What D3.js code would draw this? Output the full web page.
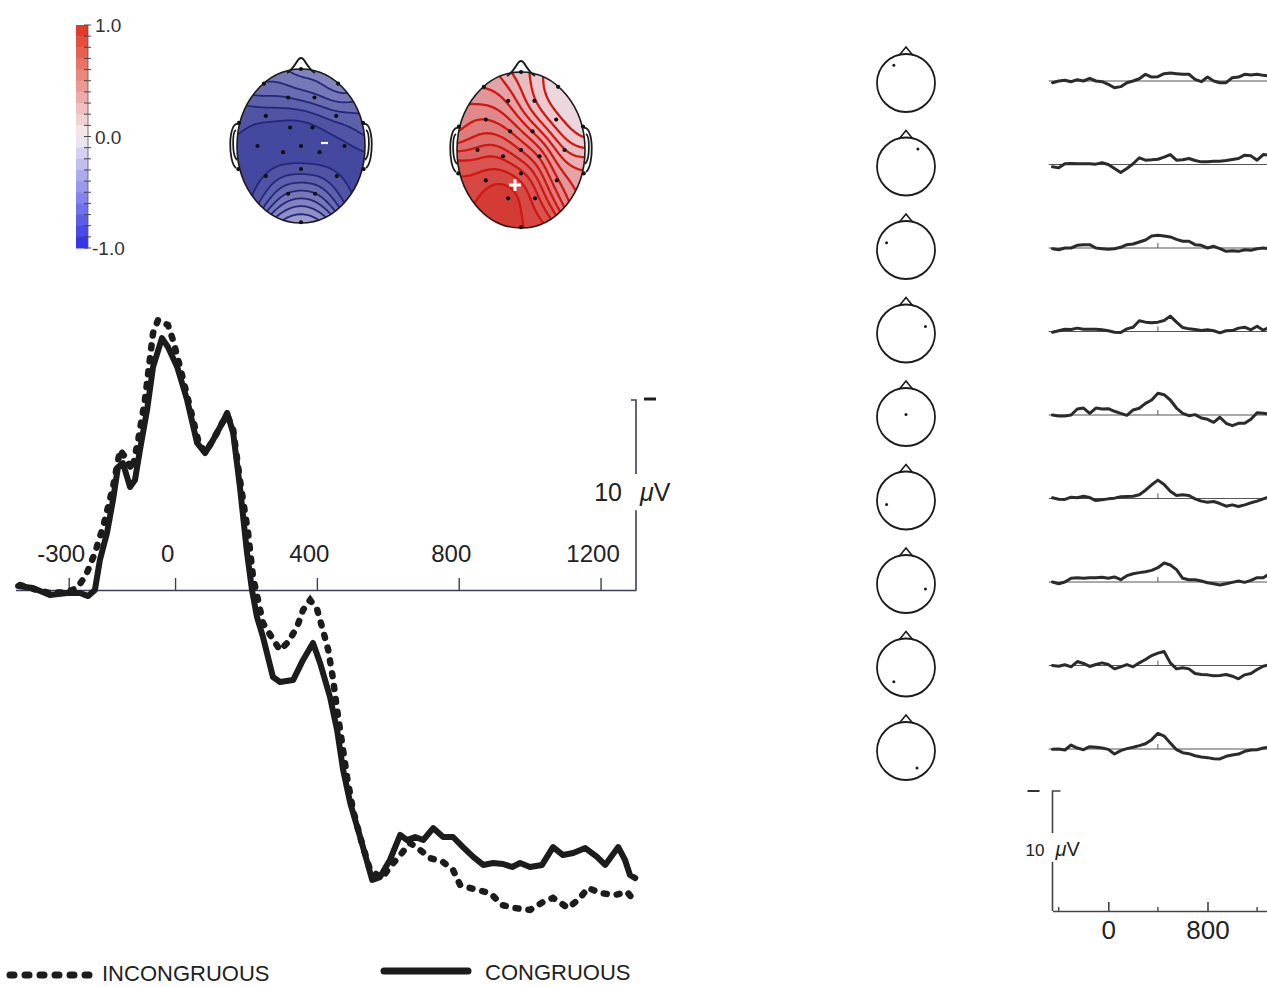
<!DOCTYPE html>
<html>
<head>
<meta charset="utf-8">
<script src="https://cdn.jsdelivr.net/npm/d3@7"></script>
<style>
    body { margin: 0; background: #fff; }
    svg { display: block; font-family: "Liberation Sans", Arial, Helvetica, sans-serif; }
</style>
</head>
<body>
<svg id="fig" width="1267" height="987"></svg>
<script>

// Grand average ERP (ms, µV) - negative is plotted up
const congruousTime = [-443, -401, -353, -305, -268, -245, -226, -212, -192, -175, -161, -147, -127, -113, -99, -79, -62, -37, -20, 6,
    34, 62, 85, 107, 133, 147, 164, 183, 203, 217, 231, 248, 276, 296, 333, 361, 389, 409, 437, 457,
    474, 494, 522, 556, 578, 606, 635, 654, 677, 700, 728, 756, 784, 812, 841, 869, 897, 925, 951, 973,
    1001, 1035, 1066, 1094, 1123, 1157, 1190, 1213, 1250, 1269, 1283, 1298]
const congruousAmp = [-0.21, -0.11, 0.26, 0.16, 0.16, 0.32, 0, -1.58, -3.0, -4.74, -6.47, -6.68, -5.42, -5.79, -7.37, -9.47, -11.74, -13.26, -12.79, -11.74,
    -10.0, -7.74, -7.21, -7.89, -8.79, -9.32, -8.26, -5.42, -1.95, 0, 1.42, 2.47, 4.58, 4.84, 4.74, 3.68, 2.79, 3.84, 5.63, 7.37,
    9.47, 11.21, 13.0, 15.26, 15.11, 14.21, 12.89, 13.16, 13.0, 13.16, 12.53, 13.0, 13.0, 13.53, 14.05, 14.47, 14.37, 14.42, 14.58, 14.37,
    14.58, 14.47, 13.53, 13.95, 13.84, 13.58, 14.05, 14.47, 13.53, 14.21, 15.0, 15.16]

const incongruousTime = [-437, -389, -353, -305, -276, -251, -226, -203, -175, -155, -141, -121, -104, -85, -62, -48, -20, -6, 14, 37,
    65, 85, 107, 133, 147, 164, 183, 206, 220, 240, 248, 274, 296, 319, 344, 361, 381, 401, 417, 432,
    446, 457, 471, 485, 502, 522, 550, 584, 606, 635, 663, 691, 719, 756, 784, 804, 852, 889, 922, 959,
    1001, 1038, 1066, 1109, 1142, 1165, 1199, 1241, 1275, 1298]
const incongruousAmp = [-0.26, 0, 0.16, 0.11, -0.11, -0.79, -1.95, -3.32, -5.42, -7.37, -7.0, -6.32, -7.89, -10.0, -13.53, -14.21, -13.95, -13.16, -11.74, -10.0,
    -7.89, -7.21, -7.89, -8.79, -9.21, -8.42, -5.79, -3.0, -0.68, 1.05, 1.74, 2.53, 3.16, 2.74, 1.95, 1.05, 0.53, 1.05, 2.11, 3.16,
    4.74, 6.32, 8.05, 9.84, 11.58, 13.0, 14.74, 15.16, 14.58, 13.95, 13.32, 13.68, 14.11, 14.32, 14.74, 15.53, 15.79, 15.95, 16.58, 16.74,
    16.84, 16.42, 16.21, 16.74, 16.21, 15.68, 15.95, 16.05, 15.89, 16.42]

const mainTicks = [-300, 0, 400, 800, 1200]

// Scalp maps: electrode positions (unit head, x right, y down) and normalised values
const electrodePos = [[0, -1], [-0.58, -0.81], [0.58, -0.81], [-0.2, -0.63], [0.21, -0.63], [-0.55, -0.39], [0.55, -0.39],
    [-0.17, -0.24], [0.18, -0.24], [-0.68, 0], [0, 0], [0.68, 0], [-0.28, 0.08], [0.29, 0.08], [0, 0.3],
    [-0.55, 0.39], [0.56, 0.39], [-0.2, 0.62], [0.22, 0.62], [0, 0.99], [-0.97, -0.3], [0.97, -0.3], [-0.98, 0.3], [0.98, 0.3]]
const topoNegative = [-0.5, -0.6, -0.45, -0.7, -0.65, -0.85, -0.75, -0.9, -0.88, -0.92, -0.95, -0.9, -0.9, -0.92, -0.8,
    -0.85, -0.85, -0.6, -0.6, -0.3, -0.8, -0.7, -0.9, -0.88]
const topoPositive = [0.2, 0.35, 0.05, 0.4, 0.15, 0.55, 0.1, 0.5, 0.3, 0.65, 0.55, 0.2, 0.8, 0.55, 0.85,
    0.85, 0.45, 0.95, 0.75, 0.85, 0.45, 0.05, 0.8, 0.35]
const colorbarLabels = [1.0, 0.0, -1.0]

// Difference waves per electrode (right column), sampled every 50 ms
const traceTime = [-450, -400, -350, -300, -250, -200, -150, -100, -50, 0, 50, 100, 150, 200, 250, 300, 350, 400,
    450, 500, 550, 600, 650, 700, 750, 800, 850, 900, 950, 1000, 1050, 1100, 1150, 1200, 1250, 1300]
const traceElectrodes = [[-0.42, -0.61], [0.41, -0.6], [-0.67, -0.25], [0.67, -0.24], [0, -0.09],
    [-0.67, 0.14], [0.67, 0.17], [-0.42, 0.49], [0.38, 0.59]]
const trace1 = [0.14, 0, -0.06, 0.06, -0.11, 0, -0.22, 0, 0.06, 0.28, 0.56, 0.47, 0.14, 0, -0.19, -0.56, -0.33, -0.36, -0.61, -0.67, -0.61, -0.56, -0.56, -0.14, 0.06, -0.33, 0, 0.14, 0.14, -0.28, -0.33, -0.56, -0.5, -0.56, -0.47, -0.42]
const trace2 = [0.19, 0.28, -0.06, -0.08, -0.06, -0.06, -0.06, -0.03, -0.14, 0, 0.33, 0.67, 0.33, -0.06, -0.56, -0.36, -0.39, -0.44, -0.61, -0.83, -0.36, -0.39, -0.5, -0.33, -0.22, -0.22, -0.28, -0.28, -0.33, -0.42, -0.5, -0.78, -0.72, -0.36, -0.83, -0.78]
const trace3 = [0.06, 0.14, 0, 0, -0.22, -0.28, -0.28, 0, 0.06, 0.11, 0.06, -0.06, -0.28, -0.33, -0.5, -0.67, -1.0, -1.06, -1.0, -0.92, -0.72, -0.56, -0.56, -0.28, -0.22, 0, -0.14, 0.06, 0.28, 0.22, 0.28, 0.14, 0.19, 0.06, 0, 0.06]
const trace4 = [0.06, -0.06, -0.19, -0.17, -0.28, -0.19, -0.19, -0.19, -0.14, -0.06, 0.06, 0.08, -0.22, -0.36, -0.89, -0.78, -0.72, -0.78, -0.92, -1.28, -0.78, -0.33, -0.22, -0.17, -0.08, -0.14, -0.06, 0.11, -0.06, -0.08, -0.28, -0.36, -0.14, -0.44, -0.11, -0.36]
const trace5 = [0, 0.08, 0.08, 0, -0.5, -0.58, -0.14, -0.58, -0.5, -0.53, -0.31, -0.14, 0.03, -0.42, -0.56, -0.97, -1.25, -1.81, -1.69, -1.25, -0.58, -0.14, 0.06, -0.03, 0.25, 0.36, 0.61, 0.19, 0.69, 0.89, 0.69, 0.69, 0.36, -0.19, -0.14, -0.08]
const trace6 = [-0.06, 0.06, 0.08, -0.11, -0.06, -0.19, -0.08, 0.17, 0.11, 0.03, -0.03, -0.14, -0.17, -0.19, -0.31, -0.69, -1.14, -1.53, -1.17, -0.61, -0.25, -0.31, -0.25, 0.03, 0.22, 0.31, 0.25, 0.42, 0.64, 0.53, 0.67, 0.53, 0.36, 0.22, 0.03, -0.14]
const trace7 = [0, 0.14, 0, -0.31, -0.36, -0.31, -0.36, -0.36, -0.39, -0.31, -0.42, -0.19, -0.53, -0.69, -0.78, -0.86, -0.97, -1.19, -1.58, -1.42, -1.03, -0.31, -0.19, -0.19, -0.08, 0.06, 0.14, 0.25, 0.14, 0.03, -0.08, 0.03, -0.14, -0.36, -0.36, -0.69]
const trace8 = [0, 0.06, -0.06, 0.11, -0.33, -0.17, 0.08, -0.08, -0.22, -0.08, 0.28, 0.11, -0.08, 0.11, -0.22, -0.5, -0.83, -1.03, -1.17, -0.22, 0.28, 0.19, 0.28, 0.67, 0.75, 0.78, 0.86, 0.83, 0.75, 0.89, 1.11, 0.78, 0.67, 0.33, 0.06, -0.08]
const trace9 = [0.03, 0, 0.08, -0.33, -0.08, 0.06, -0.19, -0.14, -0.08, 0.03, 0.42, 0.14, -0.03, -0.14, -0.28, -0.44, -0.78, -1.31, -1.08, -0.5, 0.06, 0.31, 0.39, 0.56, 0.67, 0.72, 0.81, 0.83, 0.61, 0.5, 0.42, 0.19, 0.08, 0.06, -0.08, -0.14]
const traces = [trace1, trace2, trace3, trace4, trace5, trace6, trace7, trace8, trace9]
const traceTicks = [0, 800]
const traceMinorTicks = [-400, 400, 1200]


const svg = d3.select("#fig")
const ink = "#1c1c1c"
const axisColor = "#3d3d5c"

// ---------------- Main ERP panel ----------------
const xMain = d3.scaleLinear().domain([-450, 1300]).range([15.5, 636])
const yMain = d3.scaleLinear().domain([0, 10]).range([590, 780])   // +µV downward

const xAxis = svg.append("g")
    .attr("transform", `translate(0,${yMain(0)})`)
    .call(d3.axisTop(xMain).tickValues(mainTicks).tickSize(12).tickSizeOuter(0).tickPadding(16)
        .tickFormat(d => String(d)))
xAxis.attr("font-family", null).attr("font-size", null)
xAxis.select(".domain").attr("stroke", axisColor).attr("stroke-width", 1.6)
xAxis.selectAll(".tick line").attr("stroke", axisColor).attr("stroke-width", 1.4)
xAxis.selectAll(".tick text").attr("dx", -8).attr("font-size", 24).attr("fill", "#222")

// 10 µV calibration bar
const barX = xMain.range()[1]
svg.append("path")
    .attr("d", `M${barX - 5},${yMain(-10)}H${barX}V${yMain(-6.1)}M${barX},${yMain(-4.2)}V${yMain(0)}`)
    .attr("fill", "none").attr("stroke", axisColor).attr("stroke-width", 1.6)
svg.append("line")
    .attr("x1", barX + 8).attr("x2", barX + 20).attr("y1", yMain(-10) - 1).attr("y2", yMain(-10) - 1)
    .attr("stroke", ink).attr("stroke-width", 3)
svg.append("text").attr("x", barX - 14).attr("y", yMain(-4.7)).attr("text-anchor", "end")
    .attr("font-size", 25).attr("fill", "#222").text("10")
const uv = svg.append("text").attr("x", barX + 4).attr("y", yMain(-4.7)).attr("font-size", 25).attr("fill", "#222")
uv.append("tspan").attr("font-style", "italic").text("\u03bc")
uv.append("tspan").text("V")

const mainLine = d3.line().x(d => xMain(d[0])).y(d => yMain(d[1]))

svg.append("path")
    .datum(incongruousTime.map((t, i) => [t, incongruousAmp[i]]))
    .attr("d", mainLine)
    .attr("fill", "none").attr("stroke", ink).attr("stroke-width", 6.5)
    .attr("stroke-linecap", "round").attr("stroke-dasharray", "3 10")

svg.append("path")
    .datum(congruousTime.map((t, i) => [t, congruousAmp[i]]))
    .attr("d", mainLine)
    .attr("fill", "none").attr("stroke", ink).attr("stroke-width", 6)
    .attr("stroke-linejoin", "round").attr("stroke-linecap", "round")

// Legend
svg.append("line").attr("x1", 10).attr("x2", 98).attr("y1", 975).attr("y2", 975)
    .attr("stroke", ink).attr("stroke-width", 7).attr("stroke-linecap", "round").attr("stroke-dasharray", "4 11")
svg.append("text").attr("x", 102).attr("y", 981).attr("font-size", 22).attr("fill", "#222").text("INCONGRUOUS")
svg.append("line").attr("x1", 384).attr("x2", 468).attr("y1", 971).attr("y2", 971)
    .attr("stroke", ink).attr("stroke-width", 7).attr("stroke-linecap", "round")
svg.append("text").attr("x", 485).attr("y", 980).attr("font-size", 22).attr("fill", "#222").text("CONGRUOUS")

// ---------------- Colour bar ----------------
const cbY = d3.scaleLinear().domain([1, -1]).range([25, 248])
const cbColor = d3.scaleLinear().domain([-1, 0, 1]).range(["#2b2de6", "#f4eef3", "#e2321d"])
const cbSteps = d3.range(20).map(i => 1 - 0.1 * i)
svg.append("g").selectAll("rect")
    .data(cbSteps)
    .enter()
    .append("rect")
    .attr("x", 76).attr("width", 12)
    .attr("y", d => cbY(d))
    .attr("height", cbY(0) - cbY(0.1) + 0.5)
    .attr("fill", d => cbColor(d - 0.05))
svg.append("g").selectAll("line")
    .data(cbSteps.concat([-1]))
    .enter()
    .append("line")
    .attr("x1", 84).attr("x2", 91)
    .attr("y1", d => cbY(d)).attr("y2", d => cbY(d))
    .attr("stroke", "#444").attr("stroke-width", 1)
svg.append("line").attr("x1", 88).attr("x2", 88).attr("y1", cbY(1)).attr("y2", cbY(-1))
    .attr("stroke", "#555").attr("stroke-width", 0.8)
svg.selectAll("cblabel")
    .data(colorbarLabels)
    .enter()
    .append("text")
    .attr("x", d => d < 0 ? 92 : 95)
    .attr("y", d => cbY(d) + 7)
    .attr("font-size", 19).attr("fill", "#333")
    .text(d => d.toFixed(1))

// ---------------- Scalp maps ----------------
const topoColor = d3.scaleLinear().domain([-1, 0, 1]).range(["#2c3192", "#efebf3", "#d0221b"])

function fieldAt(px, py, vals) {
    let num = 0, den = 0
    electrodePos.forEach((p, i) => {
        const d2 = (px - p[0]) ** 2 + (py - p[1]) ** 2
        const w = Math.exp(-d2 / 0.12)
        num += w * vals[i]
        den += w
    })
    return num / den
}

function drawTopo(id, cx, cy, rx, ry, vals, lineColor, lineWidth) {
    const n = 90, ext = 1.1
    const grid = new Array(n * n)
    for (let j = 0; j < n; j++) {
        for (let i = 0; i < n; i++) {
            const gx = -ext + 2 * ext * (i + 0.5) / n
            const gy = -ext + 2 * ext * (j + 0.5) / n
            grid[j * n + i] = fieldAt(gx, gy, vals)
        }
    }
    const step = 0.065
    const thresholds = d3.range(-1.04, 1.0001, step)
    const contours = d3.contours().size([n, n]).thresholds(thresholds)(grid)

    const proj = d3.geoTransform({
        point: function (x, y) {
            this.stream.point(cx + (-ext + 2 * ext * x / n) * rx, cy + (-ext + 2 * ext * y / n) * ry)
        }
    })
    const path = d3.geoPath(proj)

    svg.append("defs").append("clipPath").attr("id", id)
        .append("ellipse").attr("cx", cx).attr("cy", cy).attr("rx", rx).attr("ry", ry)

    const g = svg.append("g")
    const maps = g.append("g").attr("clip-path", `url(#${id})`)
    maps.selectAll("path")
        .data(contours)
        .enter()
        .append("path")
        .attr("d", path)
        .attr("fill", d => topoColor(Math.max(-1, Math.min(1, d.value + step / 2))))
        .attr("stroke", (d, i) => i === 0 ? "none" : lineColor)
        .attr("stroke-width", lineWidth)
        .attr("stroke-linejoin", "round")

    // head outline, nose and ears
    g.append("ellipse").attr("cx", cx).attr("cy", cy).attr("rx", rx).attr("ry", ry)
        .attr("fill", "none").attr("stroke", ink).attr("stroke-width", 1.6)
    const top = cy - ry
    g.append("path")
        .attr("d", `M${cx - 14},${top + 4} Q${cx - 9},${top + 1} ${cx - 3},${top - 9} Q${cx},${top - 13} ${cx + 3},${top - 9} Q${cx + 9},${top + 1} ${cx + 14},${top + 4}`)
        .attr("fill", "none").attr("stroke", ink).attr("stroke-width", 2)
    for (const s of [-1, 1]) {
        const ex = cx + s * (rx - 1)
        g.append("path")
            .attr("d", `M${ex},${cy - 22} C${ex + s * 10},${cy - 24} ${ex + s * 10},${cy + 16} ${ex + s * 2},${cy + 22} M${ex + s * 2},${cy - 16} C${ex + s * 6},${cy - 14} ${ex + s * 6},${cy + 10} ${ex + s * 1},${cy + 14}`)
            .attr("fill", "none").attr("stroke", ink).attr("stroke-width", 1.8)
    }
    g.selectAll("circle")
        .data(electrodePos)
        .enter()
        .append("circle")
        .attr("cx", d => cx + d[0] * rx)
        .attr("cy", d => cy + d[1] * ry)
        .attr("r", 2.1)
        .attr("fill", "#111")
    return g
}

const negMap = drawTopo("clipNeg", 301, 146, 64, 77, topoNegative, "#23287a", 1.8)
negMap.append("line").attr("x1", 321).attr("x2", 328).attr("y1", 143).attr("y2", 143)
    .attr("stroke", "#fff").attr("stroke-width", 2.2)

const posMap = drawTopo("clipPos", 521, 150, 64, 78, topoPositive, "#d2170f", 2.3)
posMap.append("path").attr("d", "M509,185H521M515,179V191")
    .attr("stroke", "#fff").attr("stroke-width", 3)

// ---------------- Right column: electrode heads and difference waves ----------------
const xTrace = d3.scaleLinear().domain([-450, 1300]).range([1052.5, 1269.5])
const rowY = d3.scalePoint().domain(d3.range(traces.length)).range([81, 749])
const uvPx = 12      // px per µV in the right column
const headR = 29, headX = 906

const rows = svg.append("g").selectAll("g")
    .data(traces)
    .enter()
    .append("g")
    .attr("transform", (d, i) => `translate(0,${rowY(i)})`)

rows.append("circle").attr("cx", headX).attr("cy", 2).attr("r", headR)
    .attr("fill", "none").attr("stroke", ink).attr("stroke-width", 1.8)
rows.append("path")
    .attr("d", `M${headX - 7},${2 - headR + 1.5}L${headX},${2 - headR - 7}L${headX + 7},${2 - headR + 1.5}`)
    .attr("fill", "none").attr("stroke", ink).attr("stroke-width", 1.6).attr("stroke-linejoin", "miter")
rows.append("circle")
    .attr("cx", (d, i) => headX + traceElectrodes[i][0] * headR)
    .attr("cy", (d, i) => 2 + traceElectrodes[i][1] * headR)
    .attr("r", 1.5).attr("fill", ink)

rows.append("line").attr("x1", xTrace(-480)).attr("x2", 1267).attr("y1", 0).attr("y2", 0)
    .attr("stroke", "#555").attr("stroke-width", 1)
rows.filter((d, i) => i > 1)
    .append("line").attr("x1", xTrace(400)).attr("x2", xTrace(400)).attr("y1", 0).attr("y2", -5)
    .attr("stroke", "#555").attr("stroke-width", 1)

const traceLine = d3.line().x((d, i) => xTrace(traceTime[i])).y(d => d * uvPx)
rows.append("path")
    .attr("d", d => traceLine(d))
    .attr("fill", "none").attr("stroke", "#2b2b2b").attr("stroke-width", 3)
    .attr("stroke-linejoin", "round").attr("stroke-linecap", "round")

// Right column axes
const axisY = 911
const rAxis = svg.append("g")
    .attr("transform", `translate(0,${axisY})`)
    .call(d3.axisBottom(xTrace).tickValues(traceTicks).tickSizeInner(-9).tickSizeOuter(0).tickPadding(10)
        .tickFormat(d => String(d)))
rAxis.attr("font-family", null).attr("font-size", null)
rAxis.select(".domain").attr("stroke", "#444").attr("stroke-width", 1.6)
rAxis.selectAll(".tick line").attr("stroke", "#444").attr("stroke-width", 1.6)
rAxis.selectAll(".tick text").attr("font-size", 26).attr("fill", "#222")
svg.append("g").selectAll("line")
    .data(traceMinorTicks)
    .enter()
    .append("line")
    .attr("x1", d => xTrace(d)).attr("x2", d => xTrace(d))
    .attr("y1", axisY).attr("y2", axisY - 4)
    .attr("stroke", "#444").attr("stroke-width", 1.4)

const rBarX = xTrace(-450)
svg.append("path")
    .attr("d", `M${rBarX + 8},${axisY - 10 * uvPx}H${rBarX}V${axisY - 6.5 * uvPx}M${rBarX},${axisY - 4.1 * uvPx}V${axisY}`)
    .attr("fill", "none").attr("stroke", "#444").attr("stroke-width", 1.6)
svg.append("line").attr("x1", rBarX - 25).attr("x2", rBarX - 13)
    .attr("y1", axisY - 10 * uvPx).attr("y2", axisY - 10 * uvPx)
    .attr("stroke", "#333").attr("stroke-width", 2)
svg.append("text").attr("x", rBarX - 8).attr("y", axisY - 5.2 * uvPx + 7).attr("text-anchor", "end")
    .attr("font-size", 17).attr("fill", "#222").text("10")
const ruv = svg.append("text").attr("x", rBarX + 3).attr("y", axisY - 5.2 * uvPx + 7)
    .attr("font-size", 20).attr("fill", "#222")
ruv.append("tspan").attr("font-style", "italic").text("\u03bc")
ruv.append("tspan").text("V")

</script>
</body>
</html>
